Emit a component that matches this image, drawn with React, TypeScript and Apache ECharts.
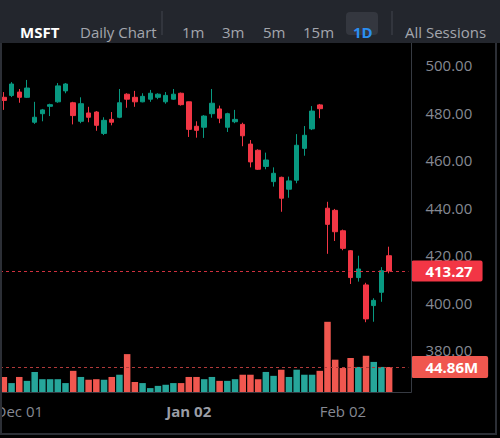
import React, { useEffect, useRef } from "react";
import * as echarts from "echarts";

const dates = [
  "Nov 26", "Nov 28", "Dec 01", "Dec 02", "Dec 03", "Dec 04", "Dec 05", "Dec 08", "Dec 09", "Dec 10",
  "Dec 11", "Dec 12", "Dec 15", "Dec 16", "Dec 17", "Dec 18", "Dec 19", "Dec 22", "Dec 23", "Dec 24",
  "Dec 26", "Dec 29", "Dec 30", "Dec 31", "Jan 02", "Jan 05", "Jan 06", "Jan 07", "Jan 08", "Jan 09",
  "Jan 12", "Jan 13", "Jan 14", "Jan 15", "Jan 16", "Jan 20", "Jan 21", "Jan 22", "Jan 23", "Jan 26",
  "Jan 27", "Jan 28", "Jan 29", "Jan 30", "Feb 02", "Feb 03", "Feb 04", "Feb 05", "Feb 06", "Feb 09",
  "Feb 10",
];
const futureSlots = ["", ""];
const shownDates = ["Dec 01", "Jan 02", "Feb 02"];
const boldDates = ["Jan 02"];

const opens = [
  486.4, 487.2, 488.6, 486.4, 475.9, 479.5, 482.6, 484.5, 489.1, 484.1,
  476.3, 479.8, 480.2, 471.2, 477.1, 478.0, 487.7, 486.4, 484.5, 485.6,
  486.4, 484.5, 485.6, 488.1, 484.5, 474.2, 473.8, 479.5, 481.5, 473.8,
  476.1, 475.0, 466.7, 464.1, 457.3, 450.9, 452.7, 447.7, 451.5, 464.9,
  473.1, 483.2, 439.7, 438.8, 430.2, 421.8, 410.5, 407.4, 398.7, 404.3,
  419.7,
];
const closes = [
  485.1, 492.0, 486.4, 490.3, 478.0, 481.1, 483.3, 491.2, 492.0, 478.7,
  483.7, 478.0, 474.6, 476.7, 475.9, 484.1, 485.6, 484.5, 486.8, 488.1,
  487.7, 487.2, 487.7, 483.3, 472.9, 472.5, 478.5, 483.9, 477.6, 479.5,
  477.1, 470.2, 459.2, 456.1, 460.0, 454.4, 443.9, 451.2, 466.2, 470.4,
  480.6, 481.6, 432.9, 429.8, 422.8, 410.5, 414.1, 393.1, 400.9, 413.4,
  413.27,
];
const lows = [
  481.1, 486.5, 484.1, 486.1, 475.2, 476.3, 478.5, 484.1, 488.1, 475.0,
  475.5, 475.9, 472.3, 470.5, 474.6, 477.6, 482.0, 482.4, 484.3, 484.5,
  485.6, 483.7, 485.3, 482.9, 469.7, 469.4, 469.3, 477.8, 475.5, 471.8,
  475.5, 465.8, 456.9, 455.8, 456.1, 448.8, 438.2, 444.1, 450.2, 461.8,
  472.6, 477.6, 420.5, 425.9, 422.0, 407.8, 408.8, 391.7, 391.9, 400.3,
  412.3,
];
const highs = [
  488.6, 492.8, 489.9, 493.7, 484.5, 481.5, 483.7, 492.4, 492.4, 484.5,
  486.4, 482.4, 480.6, 478.0, 480.2, 489.9, 488.1, 489.1, 488.1, 489.5,
  488.1, 488.6, 489.9, 488.4, 484.6, 476.3, 478.9, 489.9, 482.9, 479.9,
  481.1, 475.7, 468.4, 464.5, 463.1, 456.9, 453.0, 453.0, 470.9, 474.3,
  482.7, 483.6, 442.4, 439.4, 430.7, 422.1, 419.7, 408.3, 401.8, 414.9,
  423.5,
];
// volume in millions of shares
const volumes = [
  27, 16, 27, 20, 36, 23, 23, 23, 16, 38,
  27, 22, 23, 22, 27, 31, 68, 18, 16, 7,
  11, 13, 16, 16, 27, 27, 23, 27, 20, 20,
  23, 31, 31, 23, 36, 29, 40, 27, 40, 31,
  31, 38, 126, 58, 43, 61, 45, 65, 54, 45,
  44.86,
];
const lastPrice = 413.27;
const lastVolume = 44.86;

const toolbarItems = ["1m", "3m", "5m", "15m"];

export default function App() {
  const ref = useRef<HTMLDivElement>(null);

  useEffect(() => {
    const chart = echarts.init(ref.current!, undefined, { renderer: "svg" });
    const FONT = "'Open Sans', sans-serif";
    const UP = "#089981";
    const DOWN = "#f23645";
    const VUP = "#26a69a";
    const VDOWN = "#f0574f";
    const AXIS_TXT = "#868993";
    const FRAME = "#363a42";

    const cats = [...dates, ...futureSlots];
    const candleData = dates.map((_, i) => [opens[i], closes[i], lows[i], highs[i]]);
    const volData = volumes.map((v, i) => ({
      value: v,
      itemStyle: { color: closes[i] >= opens[i] ? VUP : VDOWN },
    }));

    const tbX = [182, 222, 263, 303];

    chart.setOption({
      animation: false,
      backgroundColor: "#000000",
      textStyle: { fontFamily: FONT },
      grid: [
        { left: 0, top: 17.5, width: 408.4, height: 380, containLabel: false, outerBoundsMode: "none" },
        { left: 0, top: 314, width: 408.4, height: 78, containLabel: false, outerBoundsMode: "none" },
      ],
      xAxis: [
        {
          type: "category",
          gridIndex: 0,
          data: cats,
          show: false,
        },
        {
          type: "category",
          gridIndex: 1,
          data: cats,
          axisLine: { show: false },
          axisTick: { show: false },
          splitLine: { show: false },
          axisLabel: {
            showMinLabel: false,
            showMaxLabel: false,
            interval: 0,
            hideOverlap: false,
            formatter: (v: string) =>
              shownDates.includes(v) ? (boldDates.includes(v) ? `{b|${v}}` : v) : "",
            color: AXIS_TXT,
            fontSize: 15,
            fontFamily: FONT,
            margin: 11,
            rich: {
              b: { fontWeight: "bold", color: "#9a9da5", fontSize: 15, fontFamily: FONT },
            },
          },
        },
      ],
      yAxis: [
        {
          type: "value",
          gridIndex: 0,
          position: "right",
          min: 360,
          max: 520,
          interval: 20,
          axisLine: { show: false },
          axisTick: { show: false },
          splitLine: { show: false },
          axisLabel: {
            margin: 17,
            color: AXIS_TXT,
            fontSize: 15,
            fontFamily: FONT,
            align: "left",
            formatter: (v: number) => (v === 520 || v === 360 ? "" : v.toFixed(2)),
          },
        },
        {
          type: "value",
          gridIndex: 1,
          min: 0,
          max: 140,
          show: false,
        },
      ],
      series: [
        {
          type: "candlestick",
          xAxisIndex: 0,
          yAxisIndex: 0,
          data: candleData,
          barWidth: 5,
          itemStyle: {
            color: UP,
            color0: DOWN,
            borderColor: UP,
            borderColor0: DOWN,
            borderWidth: 1,
          },
          markLine: {
            silent: true,
            symbol: ["none", "none"],
            emphasis: { disabled: true },
            lineStyle: { color: "#d0303e", type: [3, 3], width: 1 },
            label: {
              position: "end",
              distance: 3,
              formatter: (p: any) => Number(p.value).toFixed(2),
              backgroundColor: DOWN,
              color: "#ffffff",
              fontWeight: "bold",
              fontSize: 15,
              fontFamily: FONT,
              lineHeight: 16,
              padding: [3, 10, 2, 14],
              borderRadius: 2,
            },
            data: [{ yAxis: lastPrice }],
          },
        },
        {
          type: "bar",
          xAxisIndex: 1,
          yAxisIndex: 1,
          data: volData,
          barWidth: 6.5,
          markLine: {
            silent: true,
            symbol: ["none", "none"],
            emphasis: { disabled: true },
            lineStyle: { color: "#b03a3a", type: [3, 3], width: 1 },
            label: {
              position: "end",
              distance: 3,
              formatter: (p: any) => `${Number(p.value).toFixed(2)}M`,
              backgroundColor: VDOWN,
              color: "#ffffff",
              fontWeight: "bold",
              fontSize: 15,
              fontFamily: FONT,
              lineHeight: 16,
              padding: [3, 10, 3, 14],
              borderRadius: 2,
            },
            data: [{ yAxis: lastVolume }],
          },
        },
      ],
      graphic: [
        { type: "rect", z: 100, shape: { x: 0, y: 0, width: 500, height: 43 }, style: { fill: "#23262d" } },
        { type: "rect", z: 101, shape: { x: 346, y: 12, width: 32, height: 23, r: 4 }, style: { fill: "#34373f" } },
        { type: "line", z: 101, shape: { x1: 162, y1: 11, x2: 162, y2: 35 }, style: { stroke: "#42454e", lineWidth: 1 } },
        { type: "line", z: 101, shape: { x1: 392, y1: 11, x2: 392, y2: 35 }, style: { stroke: "#42454e", lineWidth: 1 } },
        {
          type: "text", z: 102, x: 20, y: 32,
          style: { text: "MSFT", fill: "#ffffff", font: `bold 15px ${FONT}`, textVerticalAlign: "middle" },
        },
        {
          type: "text", z: 102, x: 80, y: 32,
          style: { text: "Daily Chart", fill: "#a3a6ad", font: `15px ${FONT}`, textVerticalAlign: "middle" },
        },
        ...toolbarItems.map((t, i) => ({
          type: "text", z: 102, x: tbX[i], y: 32,
          style: { text: t, fill: "#a3a6ad", font: `15px ${FONT}`, textVerticalAlign: "middle" },
        })),
        {
          type: "text", z: 102, x: 353, y: 32,
          style: { text: "1D", fill: "#2b8ef0", font: `bold 15px ${FONT}`, textVerticalAlign: "middle" },
        },
        {
          type: "text", z: 102, x: 405, y: 32,
          style: { text: "All Sessions", fill: "#a3a6ad", font: `15px ${FONT}`, textVerticalAlign: "middle" },
        },
        // frame
        { type: "line", z: 90, shape: { x1: 411.5, y1: 43, x2: 411.5, y2: 392.5 }, style: { stroke: FRAME, lineWidth: 1 } },
        { type: "line", z: 90, shape: { x1: 0, y1: 392.5, x2: 411.5, y2: 392.5 }, style: { stroke: FRAME, lineWidth: 1 } },
        { type: "line", z: 90, shape: { x1: 1, y1: 43, x2: 1, y2: 434 }, style: { stroke: "#2c2f36", lineWidth: 2 } },
        { type: "line", z: 90, shape: { x1: 496, y1: 43, x2: 496, y2: 434 }, style: { stroke: "#2c2f36", lineWidth: 2 } },
        { type: "line", z: 90, shape: { x1: 0, y1: 434, x2: 497, y2: 434 }, style: { stroke: "#2c2f36", lineWidth: 2 } },
      ],
    });

    return () => chart.dispose();
  }, []);

  return (
    <div
      ref={ref}
      style={{ position: "fixed", left: 0, top: 0, width: 500, height: 438, background: "#000" }}
    />
  );
}
